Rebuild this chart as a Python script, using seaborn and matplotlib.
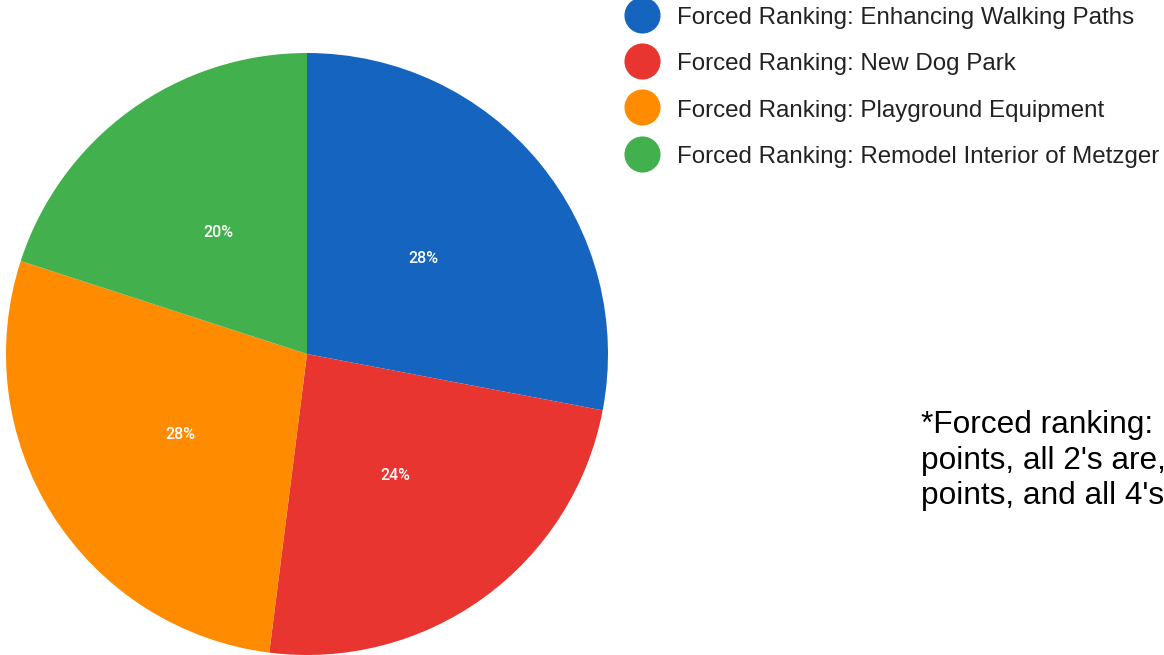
import matplotlib
matplotlib.use("Agg")
import matplotlib.pyplot as plt
from matplotlib.lines import Line2D
import seaborn as sns

# ---- data ----
categories = [
    "Forced Ranking: Enhancing Walking Paths",
    "Forced Ranking: New Dog Park",
    "Forced Ranking: Playground Equipment",
    "Forced Ranking: Remodel Interior of Metzger",
]
shares = [28, 24, 28, 20]
colors = ["#1565C0", "#E8352F", "#FF8C00", "#43B04E"]
footnote_lines = ["*Forced ranking:", "points, all 2's are,", "points, and all 4's"]

sns.set_theme(style="white")
plt.rcParams["font.family"] = ["Liberation Sans", "DejaVu Sans"]

W, H = 1164, 655
fig = plt.figure(figsize=(W / 100, H / 100), dpi=100)
fig.patch.set_facecolor("white")

# pie axes: centre (307, 354) px from top-left, radius ~301 px
r = 301
cx, cy = 307, 354
ax = fig.add_axes([(cx - r) / W, (H - cy - r) / H, 2 * r / W, 2 * r / H])
palette = sns.color_palette(colors)
wedges, texts, autotexts = ax.pie(
    shares,
    colors=palette,
    startangle=90,
    counterclock=False,
    autopct="%.0f%%",
    pctdistance=0.5,
    radius=1,
    wedgeprops=dict(linewidth=0),
    textprops=dict(color="white", fontsize=11.5, family="Roboto", weight="medium"),
)
ax.set_xlim(-1, 1)
ax.set_ylim(-1, 1)
ax.set_aspect("equal")
ax.axis("off")

handles = [
    Line2D([0], [0], marker="o", linestyle="none", markersize=26,
           markerfacecolor=c, markeredgewidth=0)
    for c in colors
]
fs = 17.35
leg = fig.legend(
    handles, categories,
    loc="upper left",
    bbox_to_anchor=(624 / W, 1 - 5 / H),
    bbox_transform=fig.transFigure,
    frameon=False,
    fontsize=fs,
    handlelength=1.5,
    handleheight=1.0,
    handletextpad=0.68,
    labelspacing=0.93,
    borderpad=0,
    borderaxespad=0,
)
for t in leg.get_texts():
    t.set_color("#222222")

for i, line in enumerate(footnote_lines):
    fig.text(921 / W, 1 - (433 + i * 35.5) / H, line, fontsize=22.8,
             color="black", ha="left", va="baseline")

fig.savefig("out.png", dpi=100, facecolor="white")
